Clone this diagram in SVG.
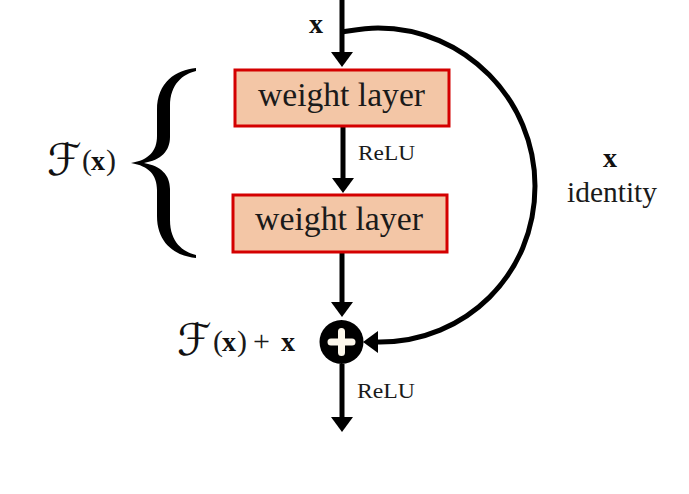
<svg xmlns="http://www.w3.org/2000/svg" width="689" height="494" viewBox="0 0 689 494">
<style>
  .box { fill: #F3C6A6; stroke: #D40000; stroke-width: 3; }
  .lbl { font-family: "Liberation Serif", "Times New Roman", serif; fill: #1a1a1a; }
  .big { font-size: 33px; }
  .small { font-size: 22px; }
  .bx { font-family: "Liberation Serif", "Times New Roman", serif; font-weight: bold; fill: #111; }
  .cal { font-family: "DejaVu Serif", "DejaVu Sans", serif; fill: #111; }
  .conn { fill: none; stroke: #000; stroke-width: 5; }
</style>
<defs>
  <marker id="ah" markerUnits="userSpaceOnUse" viewBox="0 0 15 22" markerWidth="15" markerHeight="22" refX="5" refY="11" orient="auto">
    <path d="M0,0 L15,11 L0,22 Z" fill="#000"/>
  </marker>
</defs>
<rect width="689" height="494" fill="#fff"/>

<g id="connectors">
  <line class="conn" x1="342" y1="0" x2="342" y2="57" marker-end="url(#ah)"/>
  <line class="conn" x1="343" y1="127" x2="343" y2="183" marker-end="url(#ah)"/>
  <line class="conn" x1="342" y1="253" x2="342" y2="307" marker-end="url(#ah)"/>
  <line class="conn" x1="342" y1="364" x2="342" y2="422" marker-end="url(#ah)"/>
  <path class="conn" d="M342,32 C355,30 365,28 378,28 C465,28 535,100 535,186 C535,275 465,342 380,342 L373,342" marker-end="url(#ah)"/>
</g>

<g id="input-label">
  <text class="bx" x="309" y="33" font-size="28">x</text>
</g>

<g id="weight1">
  <rect class="box" x="235" y="70" width="214" height="56"/>
  <text class="lbl big" x="258" y="106" textLength="167" lengthAdjust="spacingAndGlyphs">weight layer</text>
</g>

<g id="relu1">
  <text class="lbl small" x="358" y="160" textLength="57" lengthAdjust="spacingAndGlyphs">ReLU</text>
</g>

<g id="weight2">
  <rect class="box" x="233" y="195" width="214" height="57"/>
  <text class="lbl big" x="255" y="230" textLength="168" lengthAdjust="spacingAndGlyphs">weight layer</text>
</g>

<g id="brace">
  <path d="M196,68 C176,70 157,82 157,110 L157,136 C157,151 149,160 131,163 C149,166 157,175 157,190 L157,216 C157,244 176,256 196,258 L196,255 C183,252 170,242 170,220 L170,189 C170,175 161,166 144,163 C161,160 170,151 170,137 L170,106 C170,84 183,74 196,71 Z" fill="#000"/>
</g>

<g id="fx-label">
  <text x="47" y="175" font-size="44" class="cal">ℱ</text>
  <text x="82" y="170" font-size="30" class="lbl">(</text>
  <text x="91" y="170" font-size="28" class="bx">x</text>
  <text x="106" y="170" font-size="30" class="lbl">)</text>
</g>

<g id="identity-label">
  <text class="bx" x="603" y="167" font-size="28">x</text>
  <text class="lbl" x="567" y="202" font-size="29" textLength="90" lengthAdjust="spacingAndGlyphs">identity</text>
</g>

<g id="add">
  <circle cx="341.5" cy="342" r="22" fill="#000"/>
  <path d="M331,342 L352,342 M341.5,331.5 L341.5,352.5" stroke="#FDF8EC" stroke-width="7" stroke-linecap="round"/>
</g>

<g id="sum-label">
  <text x="177" y="355" font-size="44" class="cal">ℱ</text>
  <text x="213" y="351" font-size="30" class="lbl">(</text>
  <text x="222" y="351" font-size="28" class="bx">x</text>
  <text x="237" y="351" font-size="30" class="lbl">)</text>
  <text x="253" y="351" font-size="30" class="lbl">+</text>
  <text x="281" y="351" font-size="28" class="bx">x</text>
</g>

<g id="relu2">
  <text class="lbl small" x="357" y="398" textLength="58" lengthAdjust="spacingAndGlyphs">ReLU</text>
</g>
</svg>
